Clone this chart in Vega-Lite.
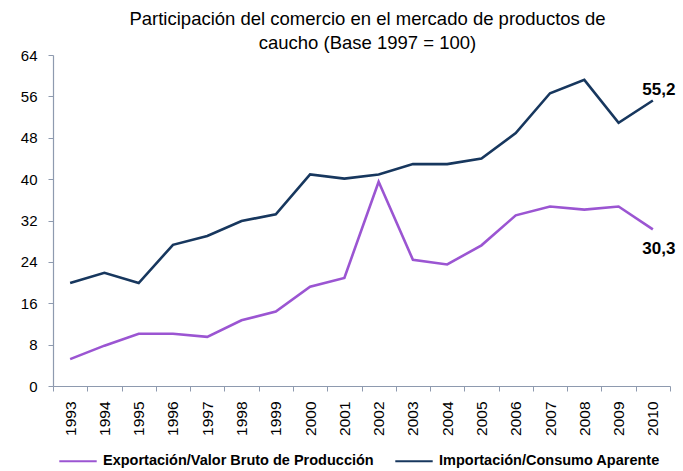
{
  "$schema": "https://vega.github.io/schema/vega-lite/v6.json",
  "width": 617,
  "height": 331,
  "autosize": {"type": "none"},
  "padding": {"left": 53, "top": 55, "right": 13, "bottom": 85},
  "background": "white",
  "config": {
    "view": {"stroke": null},
    "font": "Liberation Sans",
    "locale": {"number": {"decimal": ",", "thousands": ".", "grouping": [3], "currency": ["", ""]}}
  },
  "title": {
    "text": ["Participación del comercio en el mercado de productos de", "caucho (Base 1997 = 100)"],
    "fontSize": 18.5,
    "fontWeight": "normal",
    "font": "Liberation Sans",
    "color": "#000000",
    "lineHeight": 24,
    "anchor": "middle",
    "frame": "group",
    "dx": 6,
    "offset": -4
  },
  "data": {
    "values": [
      {"year": "1993", "serie": "Exportación/Valor Bruto de Producción", "valor": 5.2},
      {"year": "1994", "serie": "Exportación/Valor Bruto de Producción", "valor": 7.8},
      {"year": "1995", "serie": "Exportación/Valor Bruto de Producción", "valor": 10.1},
      {"year": "1996", "serie": "Exportación/Valor Bruto de Producción", "valor": 10.1},
      {"year": "1997", "serie": "Exportación/Valor Bruto de Producción", "valor": 9.5},
      {"year": "1998", "serie": "Exportación/Valor Bruto de Producción", "valor": 12.7},
      {"year": "1999", "serie": "Exportación/Valor Bruto de Producción", "valor": 14.4},
      {"year": "2000", "serie": "Exportación/Valor Bruto de Producción", "valor": 19.2},
      {"year": "2001", "serie": "Exportación/Valor Bruto de Producción", "valor": 20.9},
      {"year": "2002", "serie": "Exportación/Valor Bruto de Producción", "valor": 39.5},
      {"year": "2003", "serie": "Exportación/Valor Bruto de Producción", "valor": 24.4},
      {"year": "2004", "serie": "Exportación/Valor Bruto de Producción", "valor": 23.5},
      {"year": "2005", "serie": "Exportación/Valor Bruto de Producción", "valor": 27.2},
      {"year": "2006", "serie": "Exportación/Valor Bruto de Producción", "valor": 33.0},
      {"year": "2007", "serie": "Exportación/Valor Bruto de Producción", "valor": 34.7},
      {"year": "2008", "serie": "Exportación/Valor Bruto de Producción", "valor": 34.1},
      {"year": "2009", "serie": "Exportación/Valor Bruto de Producción", "valor": 34.7},
      {"year": "2010", "serie": "Exportación/Valor Bruto de Producción", "valor": 30.3},
      {"year": "1993", "serie": "Importación/Consumo Aparente", "valor": 19.9},
      {"year": "1994", "serie": "Importación/Consumo Aparente", "valor": 21.9},
      {"year": "1995", "serie": "Importación/Consumo Aparente", "valor": 19.9},
      {"year": "1996", "serie": "Importación/Consumo Aparente", "valor": 27.3},
      {"year": "1997", "serie": "Importación/Consumo Aparente", "valor": 29.0},
      {"year": "1998", "serie": "Importación/Consumo Aparente", "valor": 31.9},
      {"year": "1999", "serie": "Importación/Consumo Aparente", "valor": 33.2},
      {"year": "2000", "serie": "Importación/Consumo Aparente", "valor": 40.9},
      {"year": "2001", "serie": "Importación/Consumo Aparente", "valor": 40.1},
      {"year": "2002", "serie": "Importación/Consumo Aparente", "valor": 40.9},
      {"year": "2003", "serie": "Importación/Consumo Aparente", "valor": 42.9},
      {"year": "2004", "serie": "Importación/Consumo Aparente", "valor": 42.9},
      {"year": "2005", "serie": "Importación/Consumo Aparente", "valor": 44.0},
      {"year": "2006", "serie": "Importación/Consumo Aparente", "valor": 48.9},
      {"year": "2007", "serie": "Importación/Consumo Aparente", "valor": 56.6},
      {"year": "2008", "serie": "Importación/Consumo Aparente", "valor": 59.2},
      {"year": "2009", "serie": "Importación/Consumo Aparente", "valor": 50.9},
      {"year": "2010", "serie": "Importación/Consumo Aparente", "valor": 55.2}
    ]
  },
  "encoding": {
    "x": {
      "field": "year",
      "type": "ordinal",
      "scale": {"type": "band", "paddingInner": 0, "paddingOuter": 0},
      "axis": {
        "title": null,
        "labelAngle": -90,
        "labelFontSize": 15.5,
        "labelColor": "#000000",
        "labelPadding": 10,
        "labelFont": "Liberation Sans",
        "tickBand": "extent",
        "tickSize": 5,
        "tickColor": "#8E9AAF",
        "domainColor": "#8E9AAF",
        "domainWidth": 1.2,
        "grid": false
      }
    },
    "y": {
      "field": "valor",
      "type": "quantitative",
      "scale": {"domain": [0, 64], "nice": false},
      "axis": {
        "title": null,
        "values": [0, 8, 16, 24, 32, 40, 48, 56, 64],
        "format": "d",
        "labelFontSize": 15,
        "labelColor": "#000000",
        "labelPadding": 11,
        "labelFont": "Liberation Sans",
        "tickSize": 5,
        "tickColor": "#8E9AAF",
        "domainColor": "#8E9AAF",
        "domainWidth": 1.2,
        "grid": false
      }
    }
  },
  "layer": [
    {
      "mark": {"type": "line", "strokeWidth": 2.6},
      "encoding": {
        "color": {
          "field": "serie",
          "type": "nominal",
          "scale": {
            "domain": ["Exportación/Valor Bruto de Producción", "Importación/Consumo Aparente"],
            "range": ["#9B55D2", "#17375E"]
          },
          "legend": {
            "title": null,
            "orient": "none",
            "legendX": 5,
            "legendY": 386,
            "direction": "horizontal",
            "columns": 2,
            "columnPadding": 17,
            "symbolType": "stroke",
            "symbolSize": 1400,
            "symbolStrokeWidth": 2,
            "labelOffset": 5,
            "labelFontSize": 14.5,
            "labelFontWeight": "bold",
            "labelColor": "#000000",
            "labelFont": "Liberation Sans",
            "labelLimit": 400
          }
        }
      }
    },
    {
      "transform": [{"filter": "datum.year == '2010' && datum.valor > 40"}],
      "mark": {"type": "text", "fontSize": 17, "fontWeight": "bold", "color": "#000000", "dx": 6, "dy": -11},
      "encoding": {
        "text": {"field": "valor", "type": "quantitative", "format": ".1f"}
      }
    },
    {
      "transform": [{"filter": "datum.year == '2010' && datum.valor < 40"}],
      "mark": {"type": "text", "fontSize": 17, "fontWeight": "bold", "color": "#000000", "dx": 6, "dy": 20},
      "encoding": {
        "text": {"field": "valor", "type": "quantitative", "format": ".1f"}
      }
    }
  ]
}
